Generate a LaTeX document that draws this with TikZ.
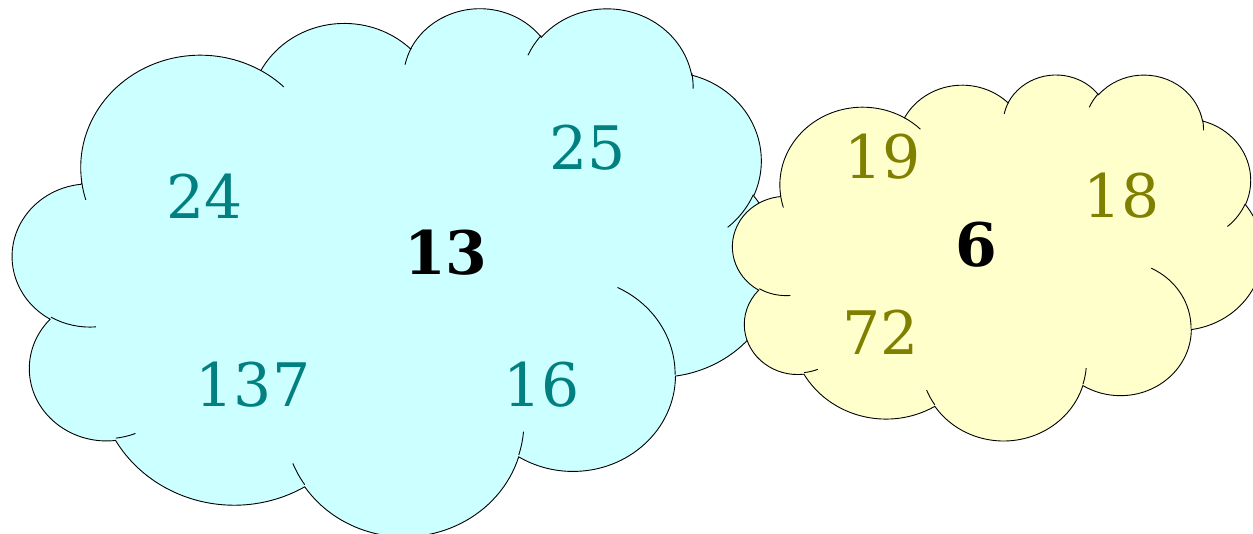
\documentclass[tikz,border=0pt]{standalone}
\usepackage{fontspec}
\setmainfont{DejaVu Serif}

\definecolor{cyancloud}{RGB}{204,255,255}
\definecolor{yellowcloud}{RGB}{255,255,204}
\definecolor{tealnum}{RGB}{0,128,128}
\definecolor{olivenum}{RGB}{128,128,0}

\newcommand\cloudarc[4]{arc[x radius=#1,y radius=#2,
  start angle={atan2(#1*sin(#3),#2*cos(#3))},
  delta angle={mod(atan2(#1*sin(#3+#4),#2*cos(#3+#4))-atan2(#1*sin(#3),#2*cos(#3))+720,360)}]}

\newcommand\cloudoutline{(3.9,14.37)
  \cloudarc{6.753}{9.19}{-190.48748}{123.78053}
  \cloudarc{5.333}{7.267}{-144.10238}{89.94523}
  \cloudarc{4.365}{5.945}{-145.80792}{99.72302}
  \cloudarc{4.857}{6.595}{-130.98607}{117.24173}
  \cloudarc{5.333}{7.273}{-78.70888}{109.02692}
  \cloudarc{6.775}{9.22}{-46.26725}{130.269}
  \cloudarc{5.785}{7.867}{0.62502}{114.03333}
  \cloudarc{6.752}{9.215}{22.4516}{115.17255}
  \cloudarc{7.72}{10.543}{66.24263}{75.71102}
  \cloudarc{4.36}{5.918}{-274.94208}{146.73557}
  \cloudarc{4.345}{5.945}{-246.8285}{152.51885} -- cycle}

\newcommand\cloudlines{
  (4.693,26.177) \cloudarc{4.345}{5.945}{86.742}{26.4295}
  (6.928,34.899) \cloudarc{4.36}{5.918}{73.61047}{11.44747}
  (16.478,39.09) \cloudarc{6.752}{9.215}{137.62415}{14.0811}
  (28.827,34.751) \cloudarc{6.752}{9.215}{6.45327}{15.99835}
  (34.129,22.954) \cloudarc{5.785}{7.867}{-70.29235}{70.91737}
  (41.798,15.354) \cloudarc{5.333}{7.273}{30.31803}{27.7515}
  (38.324,5.426) \cloudarc{4.857}{6.595}{-13.74433}{14.8589}
  (29.078,3.952) \cloudarc{4.857}{6.595}{-149.18145}{18.19537}
  (22.141,4.72) \cloudarc{4.365}{5.945}{-163.49427}{17.68635}
  (14,5.192) \cloudarc{6.753}{9.19}{-66.70695}{12.31935}
  (4.127,15.789) \cloudarc{6.753}{9.19}{157.65435}{11.85817}}

\begin{document}
\begin{tikzpicture}[x=1pt,y=-1pt,
  outline/.style={draw=black,line width=0.9pt},
  bluenum/.style={text=tealnum,inner sep=0pt,font=\fontsize{60}{72}\selectfont},
  yellownum/.style={text=olivenum,inner sep=0pt,font=\fontsize{60}{72}\selectfont},
  sumnum/.style={text=black,inner sep=0pt,font=\fontsize{60}{72}\selectfont\bfseries}]
	\useasboundingbox (0,0) rectangle (1253,534);

	\begin{scope}[shift={(12.7,7)},x=17.72pt,y=-12.22pt]
		\draw[outline,fill=cyancloud] \cloudoutline;
		\draw[outline] \cloudlines;
	\end{scope}
	\begin{scope}[shift={(732.8,73.8)},x=12.259pt,y=-8.469pt]
		\draw[outline,fill=yellowcloud] \cloudoutline;
		\draw[outline] \cloudlines;
	\end{scope}

	\draw (204.5,196.7) node [bluenum] (n24) {24};
	\draw (587.5,147.7) node [bluenum] (n25) {25};
	\draw (445.8,252.7) node [sumnum] (n13) {13};
	\draw (253,384.3) node [bluenum] (n137) {137};
	\draw (541.2,384.4) node [bluenum] (n16) {16};
	\draw (882.3,156.7) node [yellownum] (n19) {19};
	\draw (1122,195.3) node [yellownum] (n18) {18};
	\draw (976.6,244.2) node [sumnum] (n6) {6};
	\draw (880.6,332) node [yellownum] (n72) {72};
\end{tikzpicture}
\end{document}
